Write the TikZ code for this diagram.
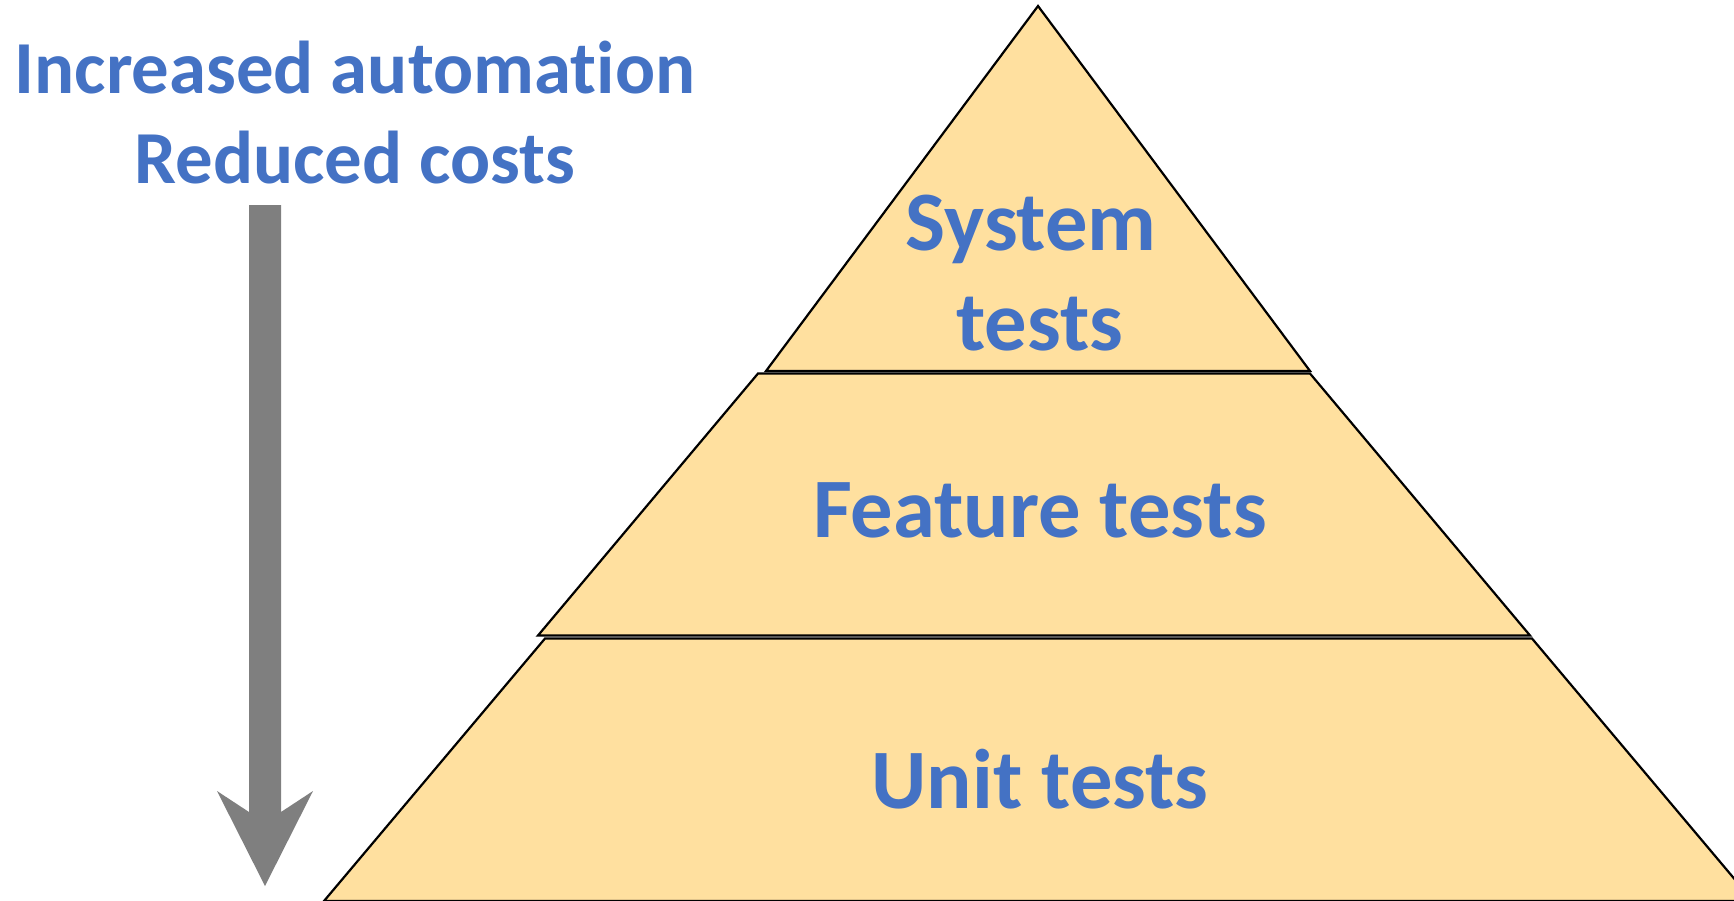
\documentclass[tikz,border=0pt]{standalone}
\usepackage{fontspec}
\setmainfont{Carlito}[Ligatures=NoCommon]
\definecolor{txtblue}{HTML}{4472C4}
\definecolor{layerfill}{HTML}{FFE09F}
\definecolor{arrowgray}{HTML}{7F7F7F}
\begin{document}
\begin{tikzpicture}[x=0.5pt,y=-0.5pt,
  layer/.style={draw=black,fill=layerfill,line width=1.1pt,line join=miter},
  lefttext/.style={text=txtblue,font=\fontsize{37.4pt}{45pt}\selectfont\bfseries,inner sep=0pt,anchor=base},
  pyrtext/.style={text=txtblue,font=\fontsize{42.3pt}{50pt}\selectfont\bfseries,inner sep=0pt,anchor=base}]
\useasboundingbox (0,0) rectangle (1734,900);
\clip (0,0) rectangle (1734,900);
% pyramid layers
\draw[layer] (545,638.5) -- (1532,638.5) -- (1753,901) -- (324,901) -- cycle;
\draw[layer] (758,373.5) -- (1310,373.5) -- (1530,635.5) -- (538,635.5) -- cycle;
\draw[layer] (1038,6) -- (1310,371) -- (766,371) -- cycle;
% arrow
\fill[arrowgray] (249,205) -- (281,205) -- (281,812) -- (313,791) -- (265,886) -- (217,791) -- (249,812) -- cycle;
% texts
\node[lefttext] (auto) at (355,93) {Increased automation};
\node[lefttext] (cost) at (355,183) {Reduced costs};
\node[pyrtext] (sys) at (1031,250) {System};
\node[pyrtext] (syst) at (1040,350) {tests};
\node[pyrtext] (feat) at (1040,537) {Feature tests};
\node[pyrtext] (unit) at (1040,808) {Unit tests};
\end{tikzpicture}
\end{document}
